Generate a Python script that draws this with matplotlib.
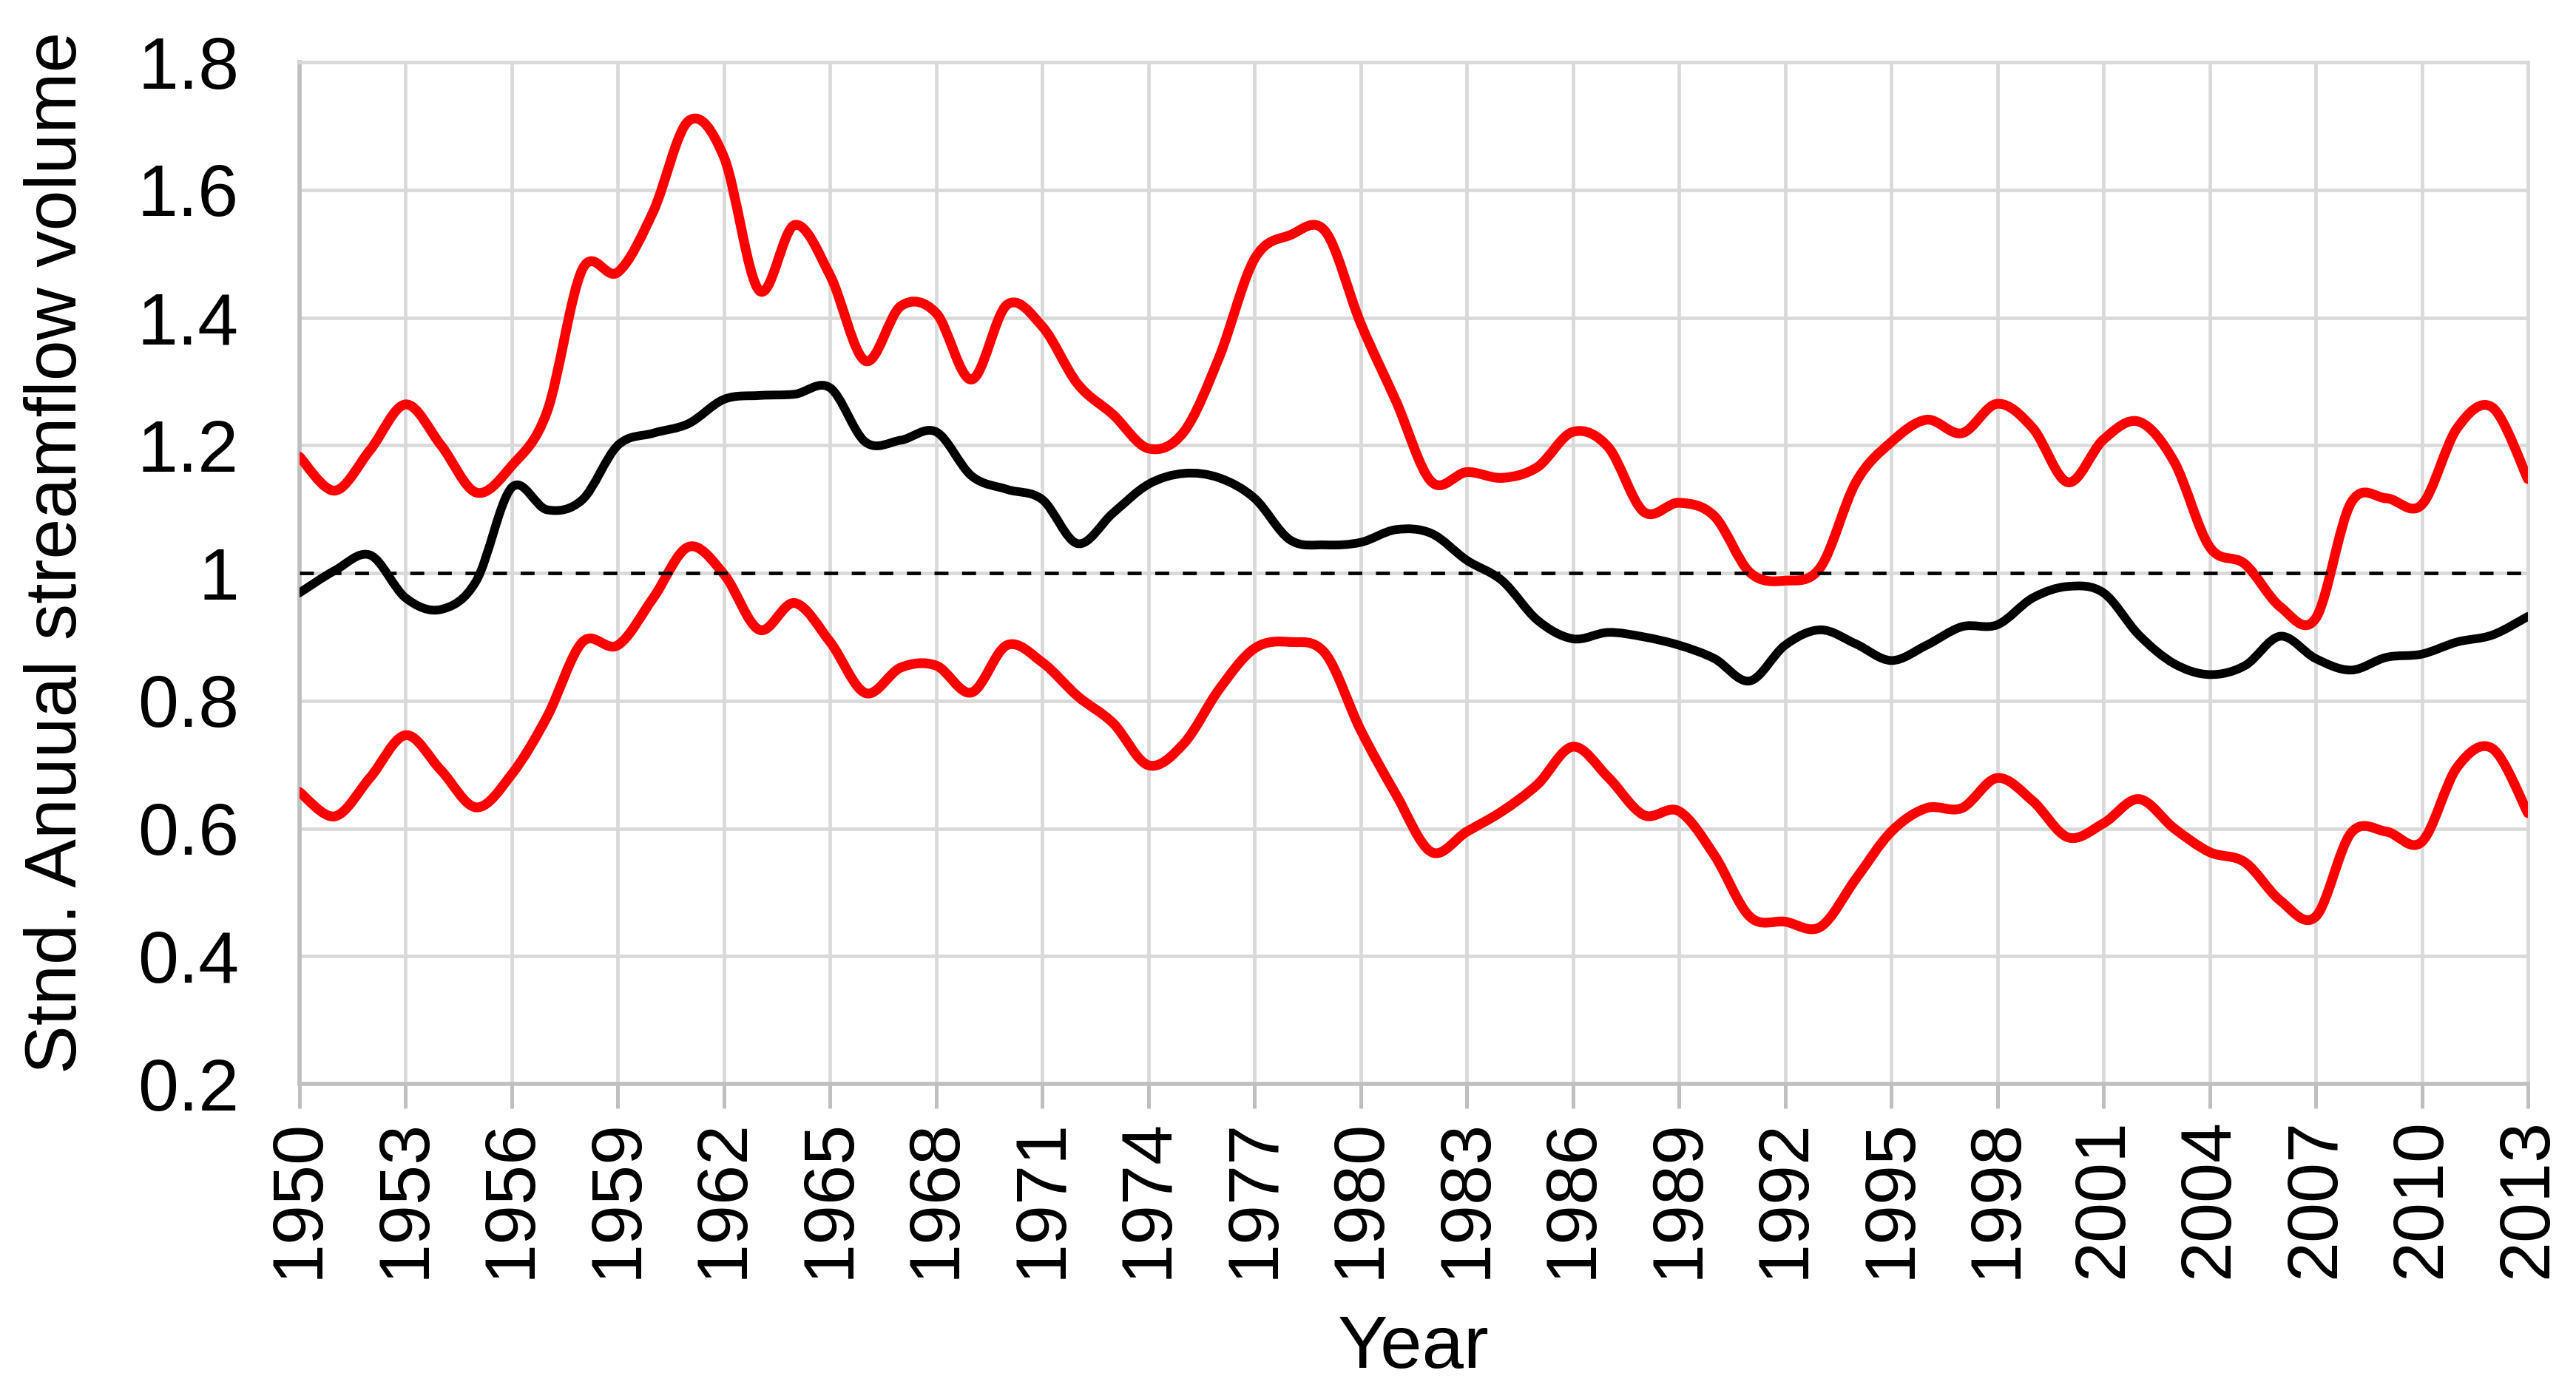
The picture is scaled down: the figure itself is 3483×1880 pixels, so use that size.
import numpy as np
import matplotlib.pyplot as plt
from matplotlib.path import Path
from matplotlib.patches import PathPatch

plt.rcParams['font.family'] = ['Liberation Sans', 'DejaVu Sans']

years = list(range(1950, 2014))

# upper bound (red)
upper = [1.182, 1.129, 1.193, 1.264, 1.200, 1.126, 1.168, 1.253, 1.476, 1.471,
         1.566, 1.708, 1.651, 1.442, 1.545, 1.466, 1.332, 1.418, 1.407, 1.303,
         1.420, 1.386, 1.296, 1.248, 1.195, 1.221, 1.338, 1.492, 1.529, 1.535,
         1.391, 1.269, 1.143, 1.158, 1.149, 1.166, 1.221, 1.197, 1.096, 1.110,
         1.089, 1.001, 0.988, 1.009, 1.142, 1.205, 1.240, 1.219, 1.265, 1.227,
         1.142, 1.209, 1.237, 1.174, 1.041, 1.014, 0.947, 0.929, 1.110, 1.117,
         1.107, 1.227, 1.259, 1.147]

# mean (black)
mean = [0.969, 1.004, 1.028, 0.961, 0.943, 0.988, 1.134, 1.099, 1.115, 1.200,
        1.219, 1.234, 1.272, 1.278, 1.280, 1.290, 1.205, 1.208, 1.221, 1.152,
        1.131, 1.115, 1.046, 1.094, 1.139, 1.156, 1.149, 1.117, 1.052, 1.044,
        1.048, 1.068, 1.062, 1.020, 0.988, 0.926, 0.897, 0.907, 0.900, 0.887,
        0.866, 0.831, 0.887, 0.911, 0.889, 0.863, 0.887, 0.916, 0.919, 0.961,
        0.979, 0.969, 0.903, 0.858, 0.841, 0.855, 0.901, 0.866, 0.848, 0.868,
        0.873, 0.892, 0.903, 0.932]

# lower bound (red)
lower = [0.657, 0.619, 0.680, 0.746, 0.691, 0.633, 0.685, 0.775, 0.892, 0.887,
         0.961, 1.041, 0.998, 0.911, 0.953, 0.892, 0.812, 0.852, 0.855, 0.813,
         0.887, 0.860, 0.807, 0.765, 0.699, 0.733, 0.818, 0.882, 0.892, 0.874,
         0.754, 0.653, 0.563, 0.595, 0.627, 0.669, 0.728, 0.680, 0.621, 0.627,
         0.558, 0.462, 0.454, 0.446, 0.521, 0.595, 0.632, 0.632, 0.679, 0.643,
         0.586, 0.608, 0.646, 0.600, 0.563, 0.547, 0.487, 0.462, 0.593, 0.595,
         0.579, 0.696, 0.725, 0.624]

yticks = [0.2, 0.4, 0.6, 0.8, 1.0, 1.2, 1.4, 1.6, 1.8]
ytick_labels = ['0.2', '0.4', '0.6', '0.8', '1', '1.2', '1.4', '1.6', '1.8']
xticks = list(range(1950, 2014, 3))


def smooth_path(x, y):
    # courbe lissee facon Excel (bezier de Catmull-Rom)
    pts = np.column_stack([x, y]).astype(float)
    n = len(pts)
    verts = [pts[0]]
    codes = [Path.MOVETO]
    for i in range(n - 1):
        p0 = pts[max(i - 1, 0)]
        p1 = pts[i]
        p2 = pts[i + 1]
        p3 = pts[min(i + 2, n - 1)]
        verts += [p1 + (p2 - p0) / 6, p2 - (p3 - p1) / 6, p2]
        codes += [Path.CURVE4] * 3
    return Path(verts, codes)


fig = plt.figure(figsize=(34.83, 18.80), dpi=100)
ax = fig.add_axes([0.11628, 0.22021, 0.86506, 0.7351])

for serie, col, lw in [(mean, 'black', 8.5), (upper, '#ff0000', 9.5), (lower, '#ff0000', 9.5)]:
    p = PathPatch(smooth_path(years, serie), fill=False, edgecolor=col, lw=lw,
                  capstyle='round', joinstyle='round', zorder=3)
    ax.add_patch(p)

ax.axhline(1.0, color='black', lw=3.4, dashes=(4.0, 3.9), zorder=4)

ax.set_xlim(1950, 2013)
ax.set_ylim(0.2, 1.8)
ax.set_xticks(xticks)
ax.set_xticklabels([str(a) for a in xticks], rotation=90)
ax.set_yticks(yticks)
ax.set_yticklabels(ytick_labels)
ax.grid(True, color='#d9d9d9', lw=3.4, zorder=0)
ax.set_axisbelow(True)

for s in ['left', 'bottom']:
    ax.spines[s].set_color('#bfbfbf')
    ax.spines[s].set_linewidth(4)
for s in ['top', 'right']:
    ax.spines[s].set_color('#d9d9d9')
    ax.spines[s].set_linewidth(3.4)

ax.tick_params(axis='x', length=24, width=3.6, color='#bfbfbf', pad=10, labelsize=70)
ax.tick_params(axis='y', length=0, pad=59, labelsize=71)

ax.set_ylabel('Stnd. Anuual streamflow volume', fontsize=71)
ax.yaxis.set_label_coords(-0.0936, 0.52)
ax.set_xlabel('Year', fontsize=73)
ax.xaxis.set_label_coords(0.5, -0.225)

fig.savefig('out.png', dpi=100)
